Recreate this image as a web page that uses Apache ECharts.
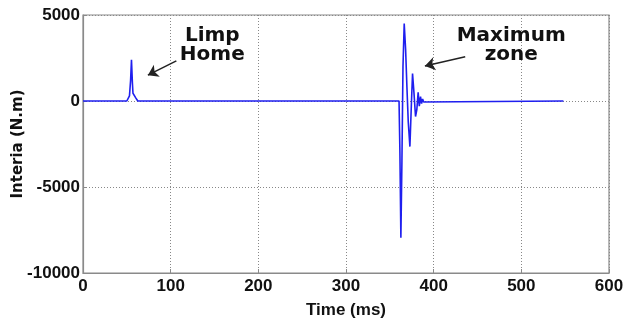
<!DOCTYPE html>
<html><head><meta charset="utf-8">
<script src="https://cdn.jsdelivr.net/npm/echarts@6/dist/echarts.min.js"></script>
<style>html,body{margin:0;padding:0;background:#fff}#c{width:625px;height:320px}</style>
</head><body><div id="c"></div>
<script>
// time (ms)
var timeMs = [0, 50, 51.5, 53, 54.3, 55.3, 56.3, 57, 58.5, 60, 62.5,
  360.5, 361.5, 362.6, 363.8, 365, 366.4, 368, 369.5, 371, 372.9, 374.5, 375.9, 377.5,
  379.3, 380.8, 382.3, 383.6, 385, 386.2, 387.4, 388.6, 390, 548];
// inertia (N.m)
var inertia = [0, 0, 0, 300, 1200, 2400, 1100, 450, 350, 200, 0,
  0, -3000, -7950, -3500, 2000, 4500, 3000, 800, -1200, -2650, -300, 1600, 500,
  -900, -500, 500, -300, 250, -150, 120, -60, 0, 0];
var xTicks = [0, 100, 200, 300, 400, 500, 600];
var yTicks = [-10000, -5000, 0, 5000];
// annotations: text anchor (data coords) and arrows [tail, head]
var annoText = ['Limp\nHome', 'Maximum\nzone'];
var annoTextPos = [[147.5, 3250], [488.5, 3250]];
var annoArrows = [[[106.5, 2330], [74, 1500]], [[436, 2570], [390, 2040]]];

var chart = echarts.init(document.getElementById('c'));
var pts = timeMs.map(function (t, i) { return [t, inertia[i]]; });
var tickFont = {fontFamily: "'Liberation Sans Narrow', 'Liberation Sans', Arial, sans-serif", fontWeight: 'bold', fontSize: 17, color: '#111'};
chart.setOption({
  animation: false,
  grid: {left: 83, right: 16, top: 15, bottom: 47, show: true, borderColor: '#8a8a8a', borderWidth: 1.2,
    containLabel: false, outerBoundsMode: 'none'},
  xAxis: {type: 'value', min: xTicks[0], max: xTicks[xTicks.length - 1], interval: 100,
    name: 'Time (ms)', nameLocation: 'middle', nameGap: 29, nameMoveOverlap: false,
    nameTextStyle: tickFont,
    axisLine: {show: true, onZero: false, lineStyle: {color: '#8a8a8a', width: 1.2}},
    axisTick: {show: true, inside: true, length: 4, lineStyle: {color: '#8a8a8a'}},
    axisLabel: Object.assign({margin: 5, formatter: function (v) { return String(v); }}, tickFont),
    splitLine: {show: true, lineStyle: {type: [1, 2], color: '#888', width: 1}}},
  yAxis: {type: 'value', min: yTicks[0], max: yTicks[yTicks.length - 1], interval: 5000,
    name: 'Interia (N.m)', nameLocation: 'middle', nameGap: 57, nameMoveOverlap: false,
    nameTextStyle: {fontFamily: 'DejaVu Sans', fontWeight: 'bold', fontSize: 15, color: '#111'},
    axisLine: {show: true, onZero: false, lineStyle: {color: '#8a8a8a', width: 1.2}},
    axisTick: {show: true, inside: true, length: 4, lineStyle: {color: '#8a8a8a'}},
    axisLabel: Object.assign({margin: 3, formatter: function (v) { return String(v); }}, tickFont),
    splitLine: {show: true, lineStyle: {type: [1, 2], color: '#888', width: 1}}},
  series: [{
    type: 'line', data: pts, showSymbol: false, symbol: 'none',
    lineStyle: {color: '#1f1fef', width: 1.6},
    markLine: {silent: true, symbol: ['none', 'arrow'], symbolSize: 10, label: {show: false},
      lineStyle: {color: '#222', width: 1.5, type: 'solid'},
      data: annoArrows.map(function (a) { return [{coord: a[0]}, {coord: a[1]}]; })}
  }]
});
var g = annoText.map(function (t, i) {
  var p = chart.convertToPixel({seriesIndex: 0}, annoTextPos[i]);
  return {type: 'text', x: p[0], y: p[1], style: {text: t, align: 'center', verticalAlign: 'middle',
    font: 'bold 20px "DejaVu Sans"', lineHeight: 19, fill: '#111'}};
});
chart.setOption({graphic: g});
</script></body></html>
